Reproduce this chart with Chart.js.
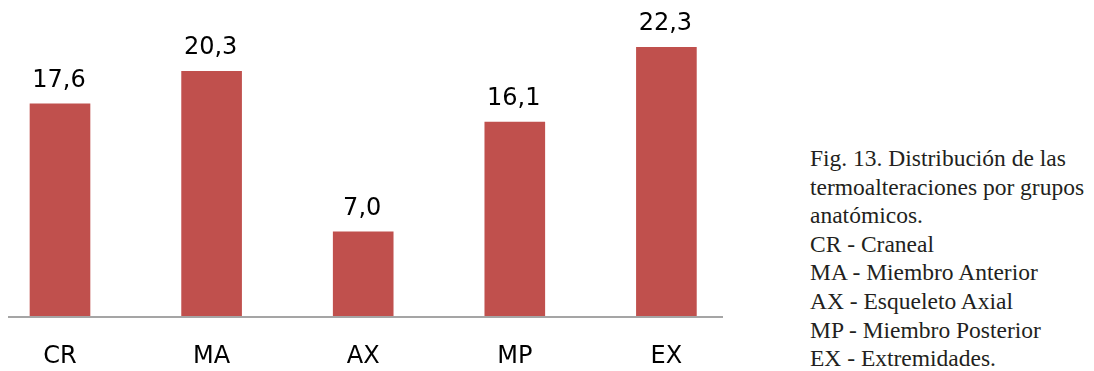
<!DOCTYPE html>
<html lang="es">
<head>
<meta charset="utf-8">
<title>Distribución de las termoalteraciones por grupos anatómicos</title>
<script src="https://cdn.jsdelivr.net/npm/chart.js@4.4.1/dist/chart.umd.min.js"></script>
<style>
  html, body { margin: 0; padding: 0; background: #ffffff; }
  body { width: 1094px; height: 371px; position: relative; overflow: hidden; }
  #wrap { position: absolute; left: -40px; top: 0; width: 790px; height: 371px; }
  #caption {
    position: absolute; left: 810px; top: 144px;
    font-family: "Liberation Serif", "Times New Roman", serif;
    font-size: 23.5px; line-height: 28.6px; color: #231f20;
    white-space: nowrap;
  }
</style>
</head>
<body>
<div id="wrap"><canvas id="chart" width="790" height="371"></canvas></div>
<div id="caption">
  Fig. 13. Distribución de las<br>
  termoalteraciones por grupos<br>
  anatómicos.<br>
  CR - Craneal<br>
  MA - Miembro Anterior<br>
  AX - Esqueleto Axial<br>
  MP - Miembro Posterior<br>
  EX - Extremidades.
</div>
<script>
// Grupos anatómicos y porcentaje de termoalteraciones
const categories = ['CR', 'MA', 'AX', 'MP', 'EX'];
const values = [17.6, 20.3, 7.0, 16.1, 22.3];
const yRange = [0, 25];

const BAR_COLOR = '#C0504D';
const LABEL_FONT = '24px "DejaVu Sans", sans-serif';

// Baseline drawn under the bars, limited to the visible axis span
const baselinePlugin = {
  id: 'baseline',
  afterDatasetsDraw(chart) {
    const { ctx, scales } = chart;
    const y = scales.y.getPixelForValue(0) + 1;
    ctx.save();
    ctx.strokeStyle = '#a5a5a5';
    ctx.lineWidth = 2;
    ctx.beginPath();
    ctx.moveTo(48, y);
    ctx.lineTo(763, y);
    ctx.stroke();
    ctx.restore();
  }
};

// Value written above each bar, decimal comma
const valueLabelPlugin = {
  id: 'valueLabels',
  afterDatasetsDraw(chart) {
    const { ctx } = chart;
    const meta = chart.getDatasetMeta(0);
    ctx.save();
    ctx.font = LABEL_FONT;
    ctx.fillStyle = '#000000';
    ctx.textAlign = 'center';
    ctx.textBaseline = 'alphabetic';
    meta.data.forEach((bar, i) => {
      const text = values[i].toFixed(1).replace('.', ',');
      ctx.fillText(text, bar.x - 1, bar.y - 17);
    });
    ctx.restore();
  }
};

new Chart(document.getElementById('chart'), {
  type: 'bar',
  data: {
    labels: categories,
    datasets: [{
      data: values,
      backgroundColor: BAR_COLOR,
      borderWidth: 0,
      categoryPercentage: 1.0,
      barPercentage: 0.4
    }]
  },
  options: {
    responsive: false,
    animation: false,
    events: [],
    layout: { padding: { left: 24.2, right: 7.8, top: 14.3, bottom: 0 } },
    plugins: { legend: { display: false }, tooltip: { enabled: false } },
    scales: {
      x: {
        grid: { display: false, drawTicks: false },
        border: { display: false },
        ticks: {
          color: '#000000',
          font: { family: '"DejaVu Sans", sans-serif', size: 24 },
          padding: 26,
          maxRotation: 0
        },
        afterFit(scale) { scale.height = 55; }
      },
      y: {
        display: false,
        min: yRange[0],
        max: yRange[1]
      }
    }
  },
  plugins: [baselinePlugin, valueLabelPlugin]
});
</script>
</body>
</html>
